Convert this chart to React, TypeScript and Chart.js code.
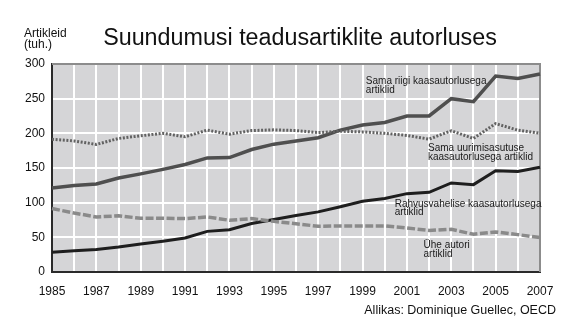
import { useEffect, useRef } from 'react';
import { Chart, registerables } from 'chart.js';

Chart.register(...registerables);

const years = ['1985','1986','1987','1988','1989','1990','1991','1992','1993','1994','1995','1996','1997','1998','1999','2000','2001','2002','2003','2004','2005','2006','2007'];
const sameCountry = [121,124.6,127,135.6,141.5,148,155,164.6,165,176.7,184.4,189,193.6,204.6,212,215.7,225,225,250,245.6,282.6,279,285.6];
const sameInstitution = [191.5,189,184,192.6,196.5,200,195,204.6,198.8,204,205,204,201,203,202,200,197,191.6,203.7,192.6,214,204.6,200];
const international = [28.5,30.5,32.5,36,40.5,44.5,49,58.6,61,70,75.6,81.5,86.7,94,102,106,113,115,128.5,126,146,145,151];
const singleAuthor = [91.5,85,79.4,81,77.5,77.5,77,79.4,74.6,77,73,69.5,66,66.5,66.5,66.5,63.5,60,61.6,54.4,57.8,53.9,49.6];
const yTicks = [0, 50, 100, 150, 200, 250, 300];

const seriesNames = ['Sama riigi kaasautorlusega artiklid', 'Sama uurimisasutuse kaasautorlusega artiklid', 'Rahvusvahelise kaasautorlusega artiklid', 'Ühe autori artiklid'];
const labelLines = [
  ['Sama riigi kaasautorlusega', 'artiklid'],
  ['Sama uurimisasutuse', 'kaasautorlusega artiklid'],
  ['Rahvusvahelise kaasautorlusega', 'artiklid'],
  ['Ühe autori', 'artiklid'],
];
const titleText = 'Suundumusi teadusartiklite autorluses';
const yUnitLines = ['Artikleid', '(tuh.)'];
const sourceText = 'Allikas: Dominique Guellec, OECD';

const FONT = '"Liberation Sans", Arial, Helvetica, sans-serif';

export default function App() {
  const ref = useRef<HTMLCanvasElement>(null);

  useEffect(() => {
    if (!ref.current) return;

    const bgPlugin = {
      id: 'plotBg',
      beforeDraw(chart: any) {
        const { ctx, chartArea: a } = chart;
        ctx.save();
        ctx.fillStyle = '#ffffff';
        ctx.fillRect(0, 0, chart.width, chart.height);
        ctx.fillStyle = '#d5d5d7';
        ctx.fillRect(a.left, a.top, a.right - a.left, a.bottom - a.top);
        ctx.restore();
      },
      beforeDatasetsDraw(chart: any) {
        const { ctx, chartArea: a } = chart;
        ctx.save();
        ctx.strokeStyle = '#8c8c8c';
        ctx.lineWidth = 2;
        ctx.beginPath();
        ctx.moveTo(a.left, a.top);
        ctx.lineTo(a.right, a.top);
        ctx.lineTo(a.right, a.bottom);
        ctx.stroke();
        ctx.restore();
      },
    };

    const textPlugin = {
      id: 'texts',
      afterDraw(chart: any) {
        const { ctx } = chart;
        const xs = chart.scales.x;
        const ys = chart.scales.y;
        ctx.save();
        ctx.fillStyle = '#111';
        ctx.textBaseline = 'alphabetic';
        // title
        ctx.font = `23.3px ${FONT}`;
        ctx.textAlign = 'center';
        ctx.fillText(titleText, 300, 45);
        // y unit
        ctx.font = `12px ${FONT}`;
        ctx.textAlign = 'left';
        ctx.fillText(yUnitLines[0], 24, 37);
        ctx.fillText(yUnitLines[1], 24, 48);
        // source
        ctx.font = `12.5px ${FONT}`;
        ctx.textAlign = 'right';
        ctx.fillText(sourceText, 556, 314);
        // series labels (anchored in data units: category index, value)
        const anchors = [
          [14.15, 271],
          [16.95, 174],
          [15.45, 94],
          [16.75, 34],
        ];
        ctx.font = `10px ${FONT}`;
        ctx.textAlign = 'left';
        ctx.fillStyle = '#1a1a1a';
        labelLines.forEach((lines, i) => {
          const px = xs.getPixelForValue(anchors[i][0]);
          const py = ys.getPixelForValue(anchors[i][1]);
          lines.forEach((t, j) => ctx.fillText(t, px, py + j * 8.5));
        });
        ctx.restore();
      },
    };

    const chart = new Chart(ref.current, {
      type: 'line',
      data: {
        labels: years,
        datasets: [
          { label: seriesNames[1], data: sameInstitution, borderColor: '#626262', borderWidth: 3, borderDash: [2, 1.6], borderCapStyle: 'butt', pointRadius: 0, tension: 0 },
          { label: seriesNames[3], data: singleAuthor, borderColor: '#8a8a8a', borderWidth: 3.5, borderDash: [8, 2.5], borderCapStyle: 'butt', pointRadius: 0, tension: 0 },
          { label: seriesNames[0], data: sameCountry, borderColor: '#4f4f4f', borderWidth: 3.5, pointRadius: 0, tension: 0 },
          { label: seriesNames[2], data: international, borderColor: '#1e1e1e', borderWidth: 3, pointRadius: 0, tension: 0 },
        ],
      },
      options: {
        responsive: false,
        animation: false,
        layout: { padding: { top: 64, right: 40, left: 0, bottom: 0 } },
        plugins: { legend: { display: false }, tooltip: { enabled: false }, title: { display: false } },
        scales: {
          x: {
            type: 'category',
            offset: false,
            grid: { color: '#ffffff', lineWidth: 2, drawTicks: false },
            border: { color: '#2a2a2a', width: 2 },
            ticks: {
              autoSkip: false,
              maxRotation: 0,
              padding: 12,
              color: '#111',
              font: { family: FONT, size: 12 },
              callback: (_v: any, i: number) => (i % 2 === 0 ? years[i] : ''),
            },
            afterFit: (s: any) => { s.height = 59; },
          },
          y: {
            min: 0,
            max: 300,
            grid: { color: '#ffffff', lineWidth: 2, drawTicks: false },
            border: { color: '#2a2a2a', width: 2 },
            ticks: {
              stepSize: 50,
              padding: 7,
              color: '#111',
              font: { family: FONT, size: 12 },
              callback: (v: any) => (yTicks.includes(Number(v)) ? String(v) : ''),
            },
            afterFit: (s: any) => { s.width = 52; },
          },
        },
      },
      plugins: [bgPlugin, textPlugin],
    });

    return () => chart.destroy();
  }, []);

  return (
    <div style={{ position: 'absolute', left: 0, top: 0, width: 580, height: 331, background: '#fff' }}>
      <canvas ref={ref} width={580} height={331} style={{ display: 'block', width: 580, height: 331 }} />
    </div>
  );
}
